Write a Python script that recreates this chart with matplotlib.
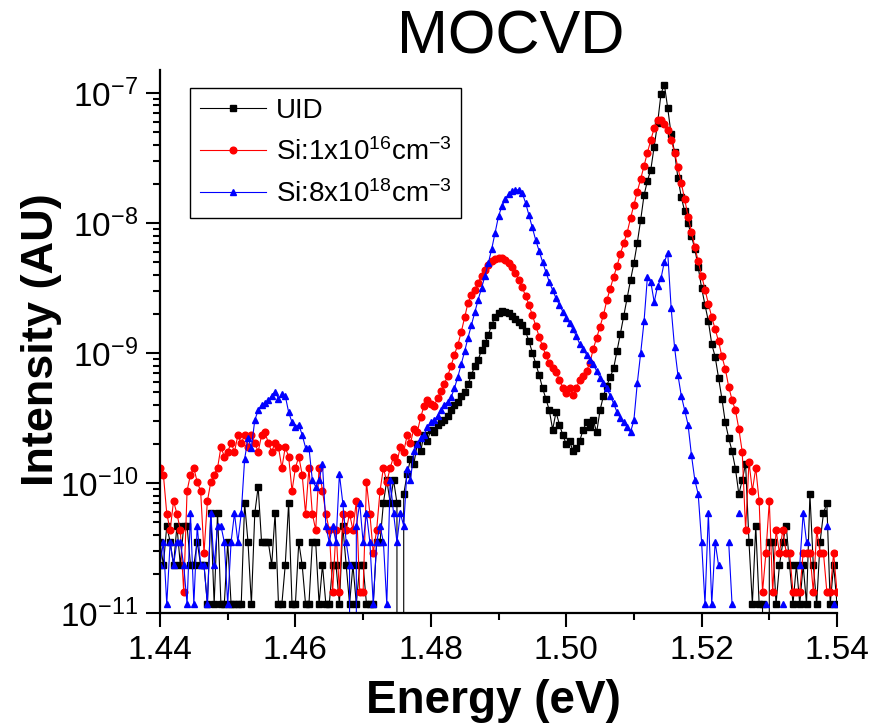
import numpy as np
import matplotlib
matplotlib.use('Agg')
import matplotlib.pyplot as plt
from matplotlib.ticker import MultipleLocator, LogLocator, FormatStrFormatter

plt.rcParams['font.family'] = ['Liberation Sans', 'DejaVu Sans']
plt.rcParams['mathtext.fontset'] = 'custom'
plt.rcParams['mathtext.rm'] = 'Liberation Sans'
plt.rcParams['mathtext.it'] = 'Liberation Sans:italic'
plt.rcParams['mathtext.bf'] = 'Liberation Sans:bold'

# energy grid (eV) of the PL scans
e_start = 1.44
e_step = 0.0005

# detector counts (nan = no point plotted)
uid_counts = [
    3, 2, 4, 3, 2, 4, 2, 4, 4, 2,
    2, 3, 2, 2, 1, 5, 1, 5, 1, 1,
    3, 1, 1, 1, 1, 6, 3, 1, 5, 8,
    3, 3, 3, 2, 5, 1, 1, 2, 6, 1,
    1, 3, 2, 1, 1, 3, 3, 1, 2, 1,
    1, 2, 2, 1, 4, 2, 1, 2, 1, 2,
    2, 1, 1, 1, 3, 3, 6, 9, 6, 9,
    6, 0, 7, 10, 13, 12, 17, 15, 20, 18,
    22, 21, 24, 25, 26, 28, 31, 34, 36, 40,
    43, 49, 58, 68, 76, 90, 102, 118, 141, 162,
    172, 180, 178, 172, 165, 156, 148, 140, 125, 105,
    86, 70, 58, 46, 38, 31, 22, 30, 24, 20,
    17, 18, 15, 16, 18, 22, 25, 23, 26, 21,
    31, 40, 48, 56, 65, 88, 120, 165, 225, 310,
    420, 600, 900, 1400, 1800, 2200, 3300, 5000, 8400, 9900,
    6500, 4100, 3000, 1900, 1350, 1050, 850, 680, 540, 390,
    270, 200, 150, 100, 80, 55, 38, 25, 19, 15,
    11, 7, 9, 12, 3, 1, 4, 1, 1, 0,
    3, 3, 1, 2, 3, 4, 2, 1, 2, 1,
    2, 1, 7, 2, 1, 3, 5, 6, 1, 2,
    1,
]
si16_counts = [
    9, 8, 4, 3, 5, 4, 3, 1, 6, 8,
    9, 7, 6, 2, 5, 7, 8, 9, 13, 11,
    12, 14, 12, 16, 14, 16, 13, 16, 14, 12,
    16, 17, 14, 12, 14, 13, 9, 13, 11, 6,
    9, 11, 8, 4, 9, 4, 3, 9, 6, 4,
    3, 1, 3, 1, 4, 3, 4, 3, 5, 1,
    1, 7, 4, 2, 3, 6, 9, 7, 9, 11,
    10, 13, 12, 16, 14, 18, 17, 22, 27, 30,
    28, 27, 31, 35, 40, 46, 55, 67, 80, 100,
    130, 168, 192, 211, 240, 270, 300, 330, 350, 362,
    370, 368, 358, 340, 315, 285, 250, 220, 190, 162,
    135, 112, 92, 78, 66, 58, 53, 49, 43, 37,
    34, 37, 33, 37, 43, 46, 50, 58, 74, 90,
    110, 135, 175, 215, 265, 320, 400, 480, 580, 750,
    950, 1200, 1500, 1900, 2400, 3000, 3700, 4300, 4250, 4000,
    3600, 3000, 2400, 1850, 1400, 1050, 770, 590, 450, 350,
    270, 210, 165, 130, 105, 85, 65, 52, 38, 30,
    25, 18, 12, 3, 10, 6, 9, 5, 1, 2,
    5, 1, 3, 2, 3, 2, 2, 1, 1, 1,
    2, 2, 2, 1, 3, 2, 2, 1, 1, 2,
    1,
]
nan = np.nan
si18_counts = [
    2, 3, 1, 3, 2, 3, 3, 2, 1, 5,
    1, 4, 2, 2, 1, 5, 2, 4, 4, 3,
    1, 3, 5, 3, 5, 13, 19, 16, 26, 31,
    34, 35, 37, 40, 43, 38, 41, 40, 30, 25,
    23, 24, 20, 16, 16, 9, 8, 9, 12, 4,
    3, 4, 3, 10, 6, 3, 2, 0, 4, 6,
    3, 5, 3, 1, 3, 4, 3, 1, 9, 5,
    3, 5, 4, 11, 9, 15, 17, 19, 20, 23,
    25, 26, 28, 31, 34, 36, 39, 46, 56, 70,
    88, 112, 140, 175, 220, 270, 335, 420, 540, 720,
    960, 1150, 1300, 1420, 1500, 1530, 1540, 1450, 1220, 980,
    790, 630, 520, 430, 360, 300, 260, 225, 200, 178,
    160, 145, 130, 115, 100, 92, 83, 76, 70, 62,
    55, 50, 46, 40, 35, 30, 27, 25, 23, 21,
    26, 50, 85, 150, 330, 300, 210, 280, 320, 430,
    500, 190, 95, 58, 40, 31, 24, 14, 9, 7,
    3, 1, 5, 1, 3, 2, nan, nan, 3, 1,
    nan, 5, nan, nan, nan, nan, nan, nan, nan, 1,
    nan, nan, nan, nan, 1, nan, nan, nan, nan, 2,
    5, 3, nan, nan, nan, nan, nan, 4, nan, 1,
    nan,
]
# intensity per count for each sample
unit_uid = 1.17e-11
unit_si16 = 1.45e-11
unit_si18 = 1.17e-11

labels = ['UID', r'Si:1x10$^{16}$cm$^{-3}$', r'Si:8x10$^{18}$cm$^{-3}$']

energy = e_start + e_step * np.arange(len(uid_counts))

fig = plt.figure(figsize=(8.88, 7.27), dpi=100)
ax = fig.add_axes([160 / 888, 114 / 727, 677 / 888, 543 / 727])

ax.plot(energy, np.array(uid_counts, float) * unit_uid, '-s', color='black',
        lw=0.8, ms=4.2, label=labels[0])
ax.plot(energy, np.array(si16_counts, float) * unit_si16, '-o', color='#ff0000',
        lw=0.8, ms=4.8, label=labels[1])
ax.plot(energy, np.array(si18_counts, float) * unit_si18, '-^', color='#0000ff',
        lw=0.8, ms=5.0, label=labels[2])

ax.set_yscale('log', nonpositive='clip')
ax.set_ylim(1e-11, 1.5e-7)
ax.set_xlim(1.44, 1.54)

ax.xaxis.set_major_locator(MultipleLocator(0.02))
ax.xaxis.set_minor_locator(MultipleLocator(0.01))
ax.xaxis.set_major_formatter(FormatStrFormatter('%.2f'))
ax.yaxis.set_major_locator(LogLocator(base=10, numticks=10))
ax.yaxis.set_minor_locator(LogLocator(base=10, subs=np.arange(2, 10), numticks=10))

ax.tick_params(which='major', direction='out', length=10, width=1.5, labelsize=24, pad=6)
ax.tick_params(which='minor', direction='out', length=5, width=1.5)
for side in ['top', 'right']:
    ax.spines[side].set_visible(False)
for side in ['left', 'bottom']:
    ax.spines[side].set_linewidth(1.6)

fig.text(493 / 888, 1 - 701 / 727, 'Energy (eV)', ha='center', va='center',
         fontsize=33, fontweight='bold')
fig.text(42 / 888, 1 - 340 / 727, 'Intensity (AU)', ha='center', va='center',
         rotation=90, fontsize=32.5, fontweight='bold')
fig.text(511 / 888, 1 - 38 / 727, 'MOCVD', ha='center', va='center', fontsize=44)

leg = ax.legend(loc='upper left', bbox_to_anchor=(0.044, 0.967), fontsize=20,
                fancybox=False, edgecolor='black', framealpha=1,
                handlelength=2.4, borderaxespad=0, borderpad=0.35,
                labelspacing=0.52, handletextpad=0.35)
leg.get_frame().set_linewidth(1.0)

fig.savefig('out.png', dpi=100)
